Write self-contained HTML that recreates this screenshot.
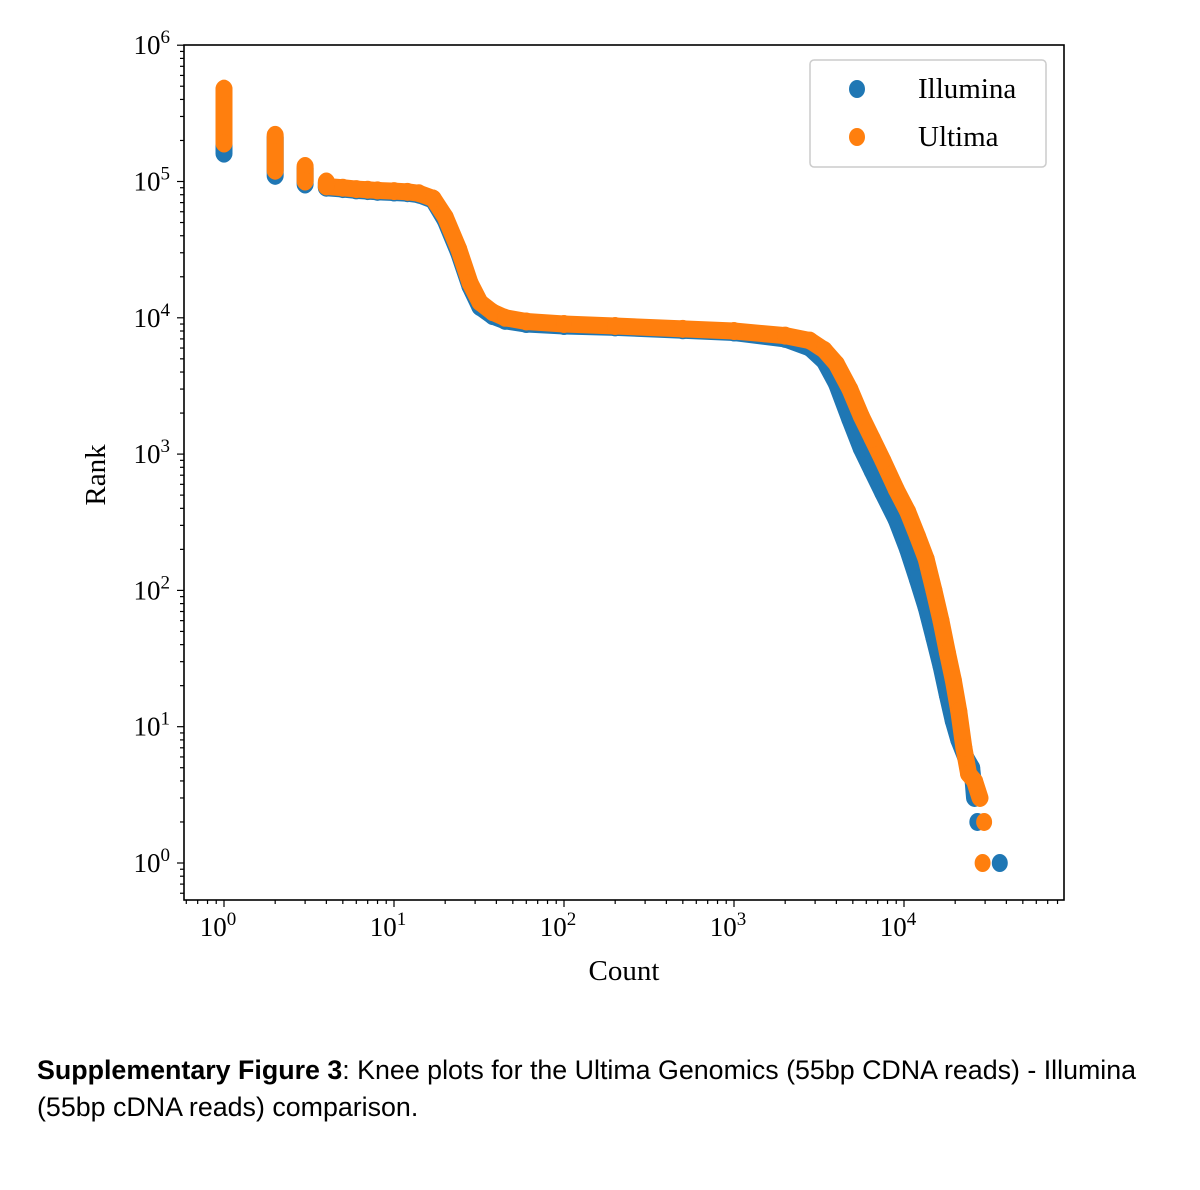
<!DOCTYPE html>
<html><head><meta charset="utf-8">
<style>
body{margin:0;background:#fff;width:1200px;height:1190px;overflow:hidden}
svg{position:absolute;left:0;top:0}
.cap{position:absolute;left:37px;top:1052px;width:1160px;font-family:"Liberation Sans",sans-serif;font-size:26.8px;line-height:37px;color:#000;white-space:nowrap}
</style></head><body>
<svg id="chart" width="1200" height="1040" font-family="Liberation Serif, serif"></svg>
<div class="cap"><b>Supplementary Figure 3</b>: Knee plots for the Ultima Genomics (55bp CDNA reads) - Illumina<br>(55bp cDNA reads) comparison.</div>
<script>
const illuminaCounts=[1,1,2,2,3,3,4,4,5,6,7,8,10,12,14,17,20,24,28,32,38,45,60,100,200,500,1000,2000,2800,3400,4000,4800,5600,6500,7500,9000,10500,12000,13500,15000,16500,18000,19500,21000,23000,25000,25500,26000,27000,36600];
const illuminaRanks=[470000,160000,210000,110000,125000,95000,98000,90000,88000,86000,85000,84000,83000,82000,80000,73000,52000,30000,17000,12000,10300,9500,9000,8700,8500,8100,7800,7000,6000,4800,3300,1800,1100,750,520,330,200,120,75,45,28,17,11,8,6,5,4,3,2,1];
const ultimaCounts=[1,1,2,2,3,3,4,4,5,6,7,8,10,12,14,17,20,24,28,32,38,45,60,100,200,500,1000,2000,2800,3400,4000,4800,5600,6500,7500,9000,10500,12000,13500,15000,16500,18000,19500,21000,22500,24000,26000,28000,29600,29000];
const ultimaRanks=[480000,190000,220000,120000,130000,100000,100000,92000,90000,88000,87000,86000,85000,84000,82000,75000,55000,32000,18000,13000,11000,10000,9400,9000,8700,8300,8000,7400,6800,5800,4600,3000,1900,1300,900,550,380,250,170,100,60,35,22,13,7,4.5,4,3,2,1];
const xTicks=[0,1,2,3,4];
const yTicks=[0,1,2,3,4,5,6];
const NS="http://www.w3.org/2000/svg";
const svg=document.getElementById('chart');
const L=184,R=1064,T=45,B=900;
const X=v=>224+170*Math.log10(v);
const Y=v=>863-136.3*Math.log10(v);
function el(t,a,p){const e=document.createElementNS(NS,t);for(const k in a)e.setAttribute(k,a[k]);(p||svg).appendChild(e);return e;}
function series(cs,rs,color,name){
  const g=el('g',{});
  
  
  for(let i=0;i<cs.length-1;i++){
    const x1=X(cs[i]),y1=Y(rs[i]),x2=X(cs[i+1]),y2=Y(rs[i+1]);
    const same=cs[i]===cs[i+1];
    const cont=cs[i]>=4 && rs[i+1]>=3 && Math.hypot(x2-x1,y2-y1)<200;
    if(same||cont){
      const l=el('line',{x1:x1,y1:y1,x2:x2,y2:y2,stroke:color,'stroke-width':17,'stroke-linecap':'round'},g);
      
      
    }
  }
  for(let i=0;i<cs.length;i++){
    const c=el('ellipse',{cx:X(cs[i]),cy:Y(rs[i]),rx:8,ry:9,fill:color},g);
    
    
  }
}
series(illuminaCounts,illuminaRanks,'#1f77b4','illumina-series');
series(ultimaCounts,ultimaRanks,'#ff7f0e','ultima-series');
const frame=el('rect',{x:L,y:T,width:R-L,height:B-T,fill:'none',stroke:'#000','stroke-width':1.6});


for(let d=-1;d<=4;d++){for(let m=1;m<10;m++){const v=m*Math.pow(10,d);const x=X(v);if(x<L||x>R)continue;
  const t=el('line',{x1:x,y1:B,x2:x,y2:B+(m==1?7:4),stroke:'#000','stroke-width':1.2});
  
  }}
xTicks.forEach(e=>{const t=el('text',{x:X(Math.pow(10,e))-6,y:B+36,'font-size':27,'text-anchor':'middle'});
  
  
  t.innerHTML='10<tspan dy="-11" font-size="19">'+e+'</tspan>';});
for(let d=0;d<=6;d++){for(let m=1;m<10;m++){const v=m*Math.pow(10,d);const y=Y(v);if(y<T-0.5||y>B)continue;
  const t=el('line',{x1:L,y1:y,x2:L-(m==1?7:4),y2:y,stroke:'#000','stroke-width':1.2});
  
  }}
for(let m=2;m<10;m++){const y=Y(m/10);if(y<=B){const t=el('line',{x1:L,y1:y,x2:L-4,y2:y,stroke:'#000','stroke-width':1.2});
  
  }}
yTicks.forEach(e=>{const t=el('text',{x:L-14,y:Y(Math.pow(10,e))+9,'font-size':27,'text-anchor':'end'});
  
  
  t.innerHTML='10<tspan dy="-11" font-size="19">'+e+'</tspan>';});
const xl=el('text',{x:624,y:980,'font-size':29,'text-anchor':'middle'});xl.textContent='Count';


const yl=el('text',{x:105,y:475,'font-size':29,'text-anchor':'middle',transform:'rotate(-90 105 475)'});yl.textContent='Rank';


const lg=el('g',{});


el('rect',{x:810,y:60,width:236,height:107,rx:4,fill:'#fff',stroke:'#ccc','stroke-width':1.5},lg);
[['Illumina','#1f77b4',89],['Ultima','#ff7f0e',137]].forEach(([n,c,y])=>{
  const d=el('ellipse',{cx:857,cy:y,rx:8,ry:9,fill:c},lg);
  
  
  const t=el('text',{x:918,y:y+9,'font-size':29},lg);t.textContent=n;
  
  
});
</script>
</body></html>
